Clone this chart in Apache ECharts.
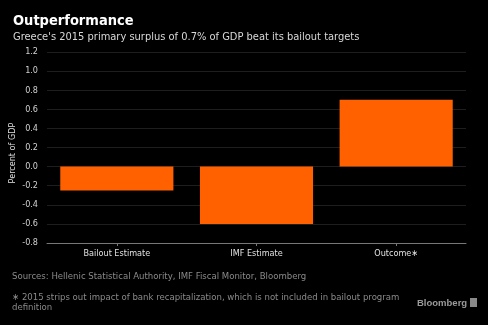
<!DOCTYPE html>
<html>
<head>
<meta charset="utf-8">
<style>
  html, body { margin: 0; padding: 0; background: #000; }
  #chart { width: 488px; height: 325px; }
</style>
<script src="https://cdn.jsdelivr.net/npm/echarts@6/dist/echarts.min.js"></script>
</head>
<body>
<div id="chart"></div>
<script>
// Greece primary balance, percent of GDP
const categories = ['Bailout Estimate', 'IMF Estimate', 'Outcome\u2217'];
const balanceValues = [-0.25, -0.6, 0.7];
const yTicks = { min: -0.8, max: 1.2, step: 0.2 };

const font = 'DejaVu Sans Condensed';
const chart = echarts.init(document.getElementById('chart'), null, { renderer: 'canvas' });

chart.setOption({
  backgroundColor: '#000',
  animation: false,
  title: [
    {
      text: 'Outperformance',
      left: 13, top: 14, padding: 0,
      textStyle: { color: '#fff', fontFamily: font, fontWeight: 'bold', fontSize: 14.5 }
    },
    {
      text: "Greece's 2015 primary surplus of 0.7% of GDP beat its bailout targets",
      left: 13, top: 32, padding: 0,
      textStyle: { color: '#d8d8d8', fontFamily: font, fontWeight: 'normal', fontSize: 11 }
    }
  ],
  graphic: [
    {
      type: 'text', x: 13, y: 153, rotation: Math.PI / 2,
      style: { text: 'Percent of GDP', fill: '#e0e0e0', font: '9px "DejaVu Sans Condensed"',
               align: 'center', verticalAlign: 'middle' }
    },
    {
      type: 'text', left: 12, top: 272,
      style: { text: 'Sources: Hellenic Statistical Authority, IMF Fiscal Monitor, Bloomberg',
               fill: '#8a8a8a', font: '9.5px "DejaVu Sans Condensed"' }
    },
    {
      type: 'text', left: 12, top: 293,
      style: { text: '\u2217 2015 strips out impact of bank recapitalization, which is not included in bailout program\ndefinition',
               fill: '#8a8a8a', font: '9.5px "DejaVu Sans Condensed"', lineHeight: 10 }
    },
    {
      type: 'text', left: 417, top: 298,
      style: { text: 'Bloomberg', fill: '#9a9a9a', font: 'bold 9.5px "Liberation Sans"' }
    },
    {
      type: 'rect', left: 470, top: 298, shape: { width: 7, height: 9 },
      style: { fill: '#8a8a8a' }
    }
  ],
  grid: { left: 47, right: 22, top: 52, bottom: 82, outerBoundsMode: 'none', containLabel: false },
  xAxis: {
    type: 'category',
    data: categories,
    position: 'bottom',
    axisLine: { onZero: false, lineStyle: { color: '#777', width: 1 } },
    axisTick: { show: true, alignWithLabel: true, length: 3, lineStyle: { color: '#777' } },
    axisLabel: { color: '#e0e0e0', fontFamily: font, fontSize: 9, margin: 6 }
  },
  yAxis: {
    type: 'value',
    min: yTicks.min, max: yTicks.max, interval: yTicks.step,
    axisLine: { show: false },
    axisTick: { show: false },
    axisLabel: { color: '#d0d0d0', fontFamily: font, fontSize: 9,
                 formatter: v => v.toFixed(1), margin: 9 },
    splitLine: { lineStyle: { color: '#1e1e1e', width: 1 } }
  },
  series: [{
    type: 'bar',
    data: balanceValues,
    barCategoryGap: '19%',
    itemStyle: { color: '#ff6000' }
  }]
});
</script>
</body>
</html>
